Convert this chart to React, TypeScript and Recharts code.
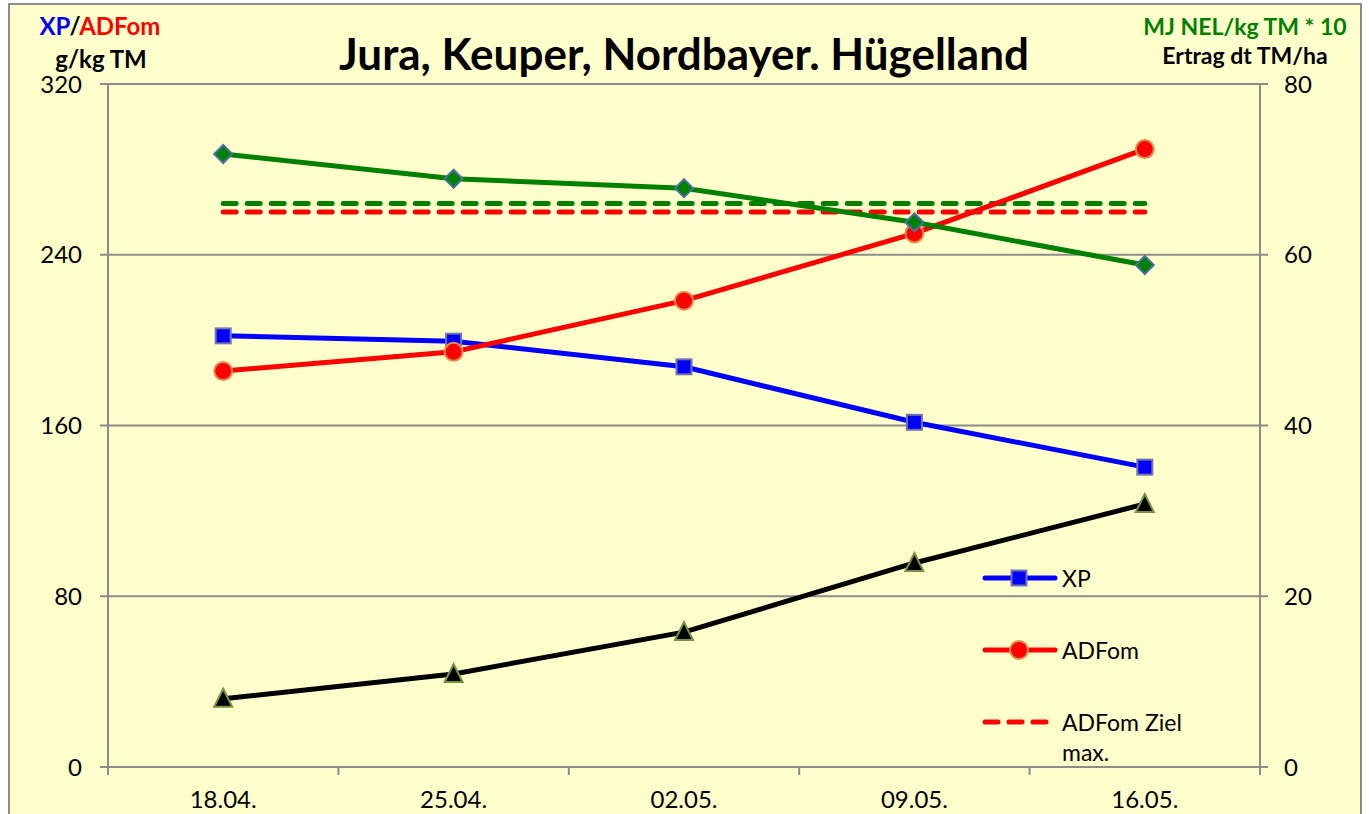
import React from "react";
import { LineChart, Line, XAxis, YAxis, CartesianGrid, Legend } from "recharts";

const dates = ["18.04.", "25.04.", "02.05.", "09.05.", "16.05."];
const xp = [202, 199.5, 187.5, 161.5, 140.5];
const adfom = [185.5, 194.5, 218.5, 250, 289.5];
const adfomZiel = [260, 260, 260, 260, 260];
const nel = [71.8, 68.9, 67.8, 63.8, 58.8];
const nelZiel = [66, 66, 66, 66, 66];
const ertrag = [8, 10.9, 15.8, 23.9, 30.8];
const leftTicks = [0, 80, 160, 240, 320];
const rightTicks = [0, 20, 40, 60, 80];

const data = dates.map((d, i) => ({
  date: d,
  xp: xp[i],
  adfom: adfom[i],
  adfomZiel: adfomZiel[i],
  nel: nel[i],
  nelZiel: nelZiel[i],
  ertrag: ertrag[i],
}));

const FONT = "Lato, 'Open Sans', sans-serif";
const AXIS = "#8c8c8c";
const BAND = 230.4;

const square = (cx: number, cy: number, key?: any) => (
  <rect key={key} x={cx - 7.5} y={cy - 7.5} width={15} height={15} fill="#0000ff" stroke="#7373b0" strokeWidth={2} />
);
const circle = (cx: number, cy: number, key?: any) => (
  <circle key={key} cx={cx} cy={cy} r={9} fill="#ff0000" stroke="#e0904a" strokeWidth={2} />
);
const diamond = (cx: number, cy: number, key?: any) => (
  <polygon key={key} points={`${cx},${cy - 9} ${cx + 9},${cy} ${cx},${cy + 9} ${cx - 9},${cy}`} fill="#008000" stroke="#4a6fa5" strokeWidth={2} />
);
const triangle = (cx: number, cy: number, key?: any) => (
  <polygon key={key} points={`${cx},${cy - 10} ${cx + 9},${cy + 8} ${cx - 9},${cy + 8}`} fill="#000" stroke="#77933c" strokeWidth={2} />
);

const markers: Record<string, (cx: number, cy: number, key?: any) => React.ReactElement> = {
  xp: square,
  adfom: circle,
};
const legendKeys = ["xp", "adfom", "adfomZiel"];

function DateTick(props: any) {
  const { x, y, payload, index } = props;
  return (
    <g>
      <line x1={x - BAND / 2} x2={x - BAND / 2} y1={y} y2={y + 8} stroke={AXIS} strokeWidth={2} />
      {index === dates.length - 1 && (
        <line x1={x + BAND / 2} x2={x + BAND / 2} y1={y} y2={y + 8} stroke={AXIS} strokeWidth={2} />
      )}
      <text x={x} y={y + 41} textAnchor="middle" fontSize={24} fontFamily={FONT} fill="#000">
        {payload.value}
      </text>
    </g>
  );
}

function LegendBox(props: any) {
  const items = (props.payload || []).filter((p: any) => legendKeys.includes(p.dataKey));
  items.sort((a: any, b: any) => legendKeys.indexOf(a.dataKey) - legendKeys.indexOf(b.dataKey));
  return (
    <div style={{ fontFamily: FONT, fontSize: 23, color: "#000" }}>
      {items.map((p: any) => {
        const dashed = p.dataKey === "adfomZiel";
        const mk = markers[p.dataKey];
        return (
          <div key={p.dataKey} style={{ display: "flex", alignItems: "flex-start", height: 72 }}>
            <svg width={82} height={30} style={{ flex: "none" }}>
              <line
                x1={5}
                x2={75}
                y1={15}
                y2={15}
                stroke={p.color}
                strokeWidth={5}
                strokeLinecap="round"
                strokeDasharray={dashed ? "13 11" : undefined}
              />
              {mk && mk(39, 15)}
            </svg>
            <div style={{ width: 140, lineHeight: "30px" }}>{p.value}</div>
          </div>
        );
      })}
    </div>
  );
}

export default function App() {
  return (
    <div style={{ position: "fixed", left: 0, top: 0, width: 1369, height: 814, overflow: "hidden", background: "#fff" }}>
      <div
        style={{
          position: "absolute",
          left: 8,
          top: 3,
          width: 1354,
          height: 840,
          boxSizing: "border-box",
          border: "2px solid #8c8c8c",
          background: "#ffffcc",
        }}
      />
      <div style={{ position: "absolute", left: 0, top: 0 }}>
        <LineChart
          width={1369}
          height={814}
          data={data}
          margin={{ top: 84, right: 39, bottom: 17, left: 38 }}
          style={{ fontFamily: FONT }}
        >
          <CartesianGrid yAxisId="left" vertical={false} stroke={AXIS} strokeWidth={2} />
          <XAxis
            dataKey="date"
            height={30}
            padding={{ left: BAND / 2, right: BAND / 2 }}
            axisLine={{ stroke: AXIS, strokeWidth: 2 }}
            tickLine={false}
            tickSize={0}
            tickMargin={0}
            tick={<DateTick />}
            interval={0}
          />
          <YAxis
            yAxisId="left"
            width={70}
            domain={[0, 320]}
            ticks={leftTicks}
            axisLine={{ stroke: AXIS, strokeWidth: 2 }}
            tickLine={{ stroke: AXIS, strokeWidth: 2 }}
            tickSize={8}
            tickMargin={18}
            tick={{ fontSize: 24, fill: "#000", fontFamily: FONT }}
          />
          <YAxis
            yAxisId="right"
            orientation="right"
            width={70}
            domain={[0, 80]}
            ticks={rightTicks}
            axisLine={{ stroke: AXIS, strokeWidth: 2 }}
            tickLine={{ stroke: AXIS, strokeWidth: 2 }}
            tickSize={8}
            tickMargin={16}
            tick={{ fontSize: 24, fill: "#000", fontFamily: FONT, textAnchor: "start" }}
          />
          <Line
            yAxisId="right"
            dataKey="nelZiel"
            name="MJ NEL Ziel"
            stroke="#008000"
            strokeWidth={5}
            strokeDasharray="13 11"
            strokeLinecap="round"
            dot={false}
            activeDot={false}
            isAnimationActive={false}
          />
          <Line
            yAxisId="left"
            dataKey="adfomZiel"
            name="ADFom Ziel max."
            stroke="#ff0000"
            strokeWidth={5}
            strokeDasharray="13 11"
            strokeLinecap="round"
            dot={false}
            activeDot={false}
            isAnimationActive={false}
          />
          <Line
            yAxisId="left"
            dataKey="xp"
            name="XP"
            stroke="#0000ff"
            strokeWidth={5}
            dot={(p: any) => square(p.cx, p.cy, p.key ?? p.index)}
            activeDot={false}
            isAnimationActive={false}
          />
          <Line
            yAxisId="left"
            dataKey="adfom"
            name="ADFom"
            stroke="#ff0000"
            strokeWidth={5}
            dot={(p: any) => circle(p.cx, p.cy, p.key ?? p.index)}
            activeDot={false}
            isAnimationActive={false}
          />
          <Line
            yAxisId="right"
            dataKey="nel"
            name="MJ NEL/kg TM * 10"
            stroke="#008000"
            strokeWidth={5}
            dot={(p: any) => diamond(p.cx, p.cy, p.key ?? p.index)}
            activeDot={false}
            isAnimationActive={false}
          />
          <Line
            yAxisId="right"
            dataKey="ertrag"
            name="Ertrag dt TM/ha"
            stroke="#000000"
            strokeWidth={5}
            dot={(p: any) => triangle(p.cx, p.cy, p.key ?? p.index)}
            activeDot={false}
            isAnimationActive={false}
          />
          <Legend
            layout="vertical"
            align="center"
            verticalAlign="middle"
            content={<LegendBox />}
            wrapperStyle={{ left: 980, top: 563, width: 260 }}
          />
        </LineChart>
      </div>
      <svg width={1369} height={814} style={{ position: "absolute", left: 0, top: 0, pointerEvents: "none" }}>
        <text x={100} y={35} textAnchor="middle" fontFamily={FONT} fontWeight="bold" fontSize={24}>
          <tspan fill="#0000ff">XP</tspan>
          <tspan fill="#000">/</tspan>
          <tspan fill="#ff0000">ADFom</tspan>
        </text>
        <text x={101} y={68} textAnchor="middle" fontFamily={FONT} fontWeight="bold" fontSize={24} fill="#000">
          g/kg TM
        </text>
        <text x={684} y={70} textAnchor="middle" fontFamily={FONT} fontWeight="bold" fontSize={44} fill="#000">
          Jura, Keuper, Nordbayer. Hügelland
        </text>
        <text x={1245} y={35} textAnchor="middle" fontFamily={FONT} fontWeight="bold" fontSize={23} fill="#008000">
          MJ NEL/kg TM * 10
        </text>
        <text x={1245} y={64} textAnchor="middle" fontFamily={FONT} fontWeight="bold" fontSize={23} fill="#000">
          Ertrag dt TM/ha
        </text>
      </svg>
    </div>
  );
}
